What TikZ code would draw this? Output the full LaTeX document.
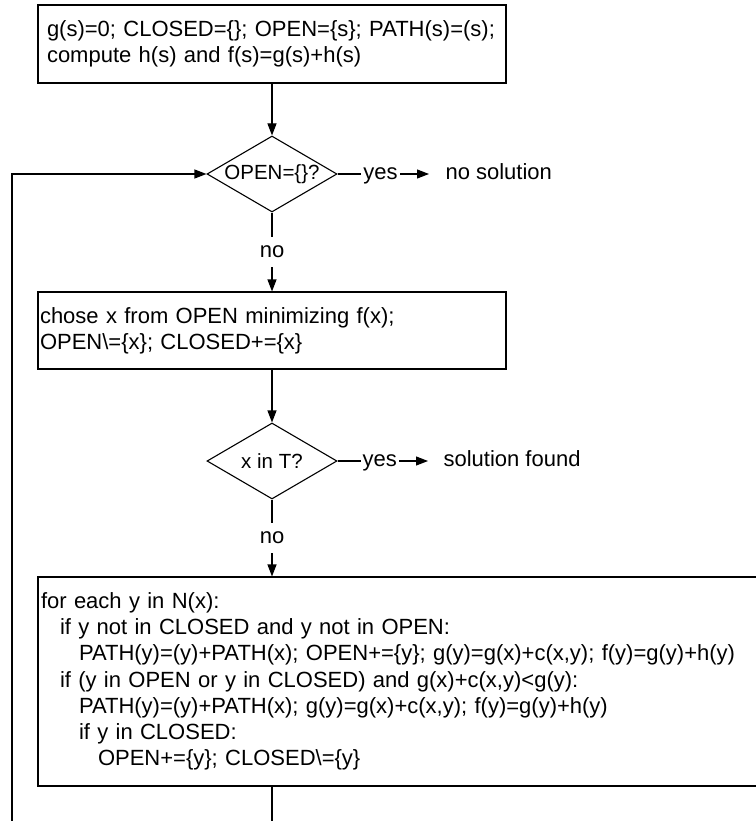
\documentclass[tikz,border=0pt]{standalone}
\usepackage{fontspec}
\setmainfont{Liberation Sans}
\usetikzlibrary{arrows.meta}
\usetikzlibrary{shapes.geometric}

\tikzset{
  block/.style={draw, rectangle, align=left, inner ysep=0pt},
  test/.style={draw, diamond, minimum width=130pt, minimum height=76pt, inner sep=-2pt, shape aspect=1.71, font=\fontsize{20.5}{24}\selectfont},
  outcome/.style={anchor=west, inner sep=0pt, text height=11.4pt, text depth=0pt},
  branchlabel/.style={fill=white, inner xsep=2pt, inner ysep=9pt, text height=11.4pt, text depth=0pt},
  flow/.style={-{Triangle[length=12pt, width=9pt]}}
}

\begin{document}
\begin{tikzpicture}[x=1pt, y=-1pt, line width=1.1pt, font=\fontsize{22}{26.2}\selectfont]
    \useasboundingbox (0,0) rectangle (755,821);

    \node [block, text width=450pt, inner xsep=9pt, minimum height=78pt] (init) at (272,44) {g(s)=0; CLOSED=\{\}; OPEN=\{s\}; PATH(s)=(s);\\compute h(s) and f(s)=g(s)+h(s)};
    \node [test] (empty) at (272,174) {OPEN=\{\}?};
    \node [outcome] (nosol) at (445,174) {no solution};

    \node [block, text width=464pt, inner xsep=2pt, minimum height=77pt] (select) at (272,330.5) {chose x from OPEN minimizing f(x);\\OPEN\textbackslash=\{x\}; CLOSED+=\{x\}};
    \node [test] (goal) at (272,461) {x in T?};
    \node [outcome] (found) at (443,461) {solution found};

    \node [block, text width=716pt, inner xsep=3pt, minimum height=209pt] (expand) at (399,681.5) {for each y in N(x):\\
      \hspace*{19pt}if y not in CLOSED and y not in OPEN:\\
      \hspace*{38pt}PATH(y)=(y)+PATH(x); OPEN+=\{y\}; g(y)=g(x)+c(x,y); f(y)=g(y)+h(y)\\
      \hspace*{19pt}if (y in OPEN or y in CLOSED) and g(x)+c(x,y)<g(y):\\
      \hspace*{38pt}PATH(y)=(y)+PATH(x); g(y)=g(x)+c(x,y); f(y)=g(y)+h(y)\\
      \hspace*{38pt}if y in CLOSED:\\
      \hspace*{57pt}OPEN+=\{y\}; CLOSED\textbackslash=\{y\}};

    \coordinate (cutmid) at (272,821);
    \coordinate (cutleft) at (12,821);

    \draw [flow] (init.south -| empty.north) -- (empty.north);
    \draw [flow, shorten >=16pt] (empty.east) -- node [branchlabel, pos=0.4] {yes} (nosol.west);
    \draw [flow] (empty.south) -- node [branchlabel] {no} (empty.south |- select.north);
    \draw [flow] (select.south -| goal.north) -- (goal.north);
    \draw [flow, shorten >=15pt] (goal.east) -- node [branchlabel, pos=0.4] {yes} (found.west);
    \draw [flow] (goal.south) -- node [branchlabel] {no} (goal.south |- expand.north);
    \draw (expand.south -| cutmid) -- (cutmid);
    \draw [flow] (cutleft) |- (empty.west);
\end{tikzpicture}
\end{document}
